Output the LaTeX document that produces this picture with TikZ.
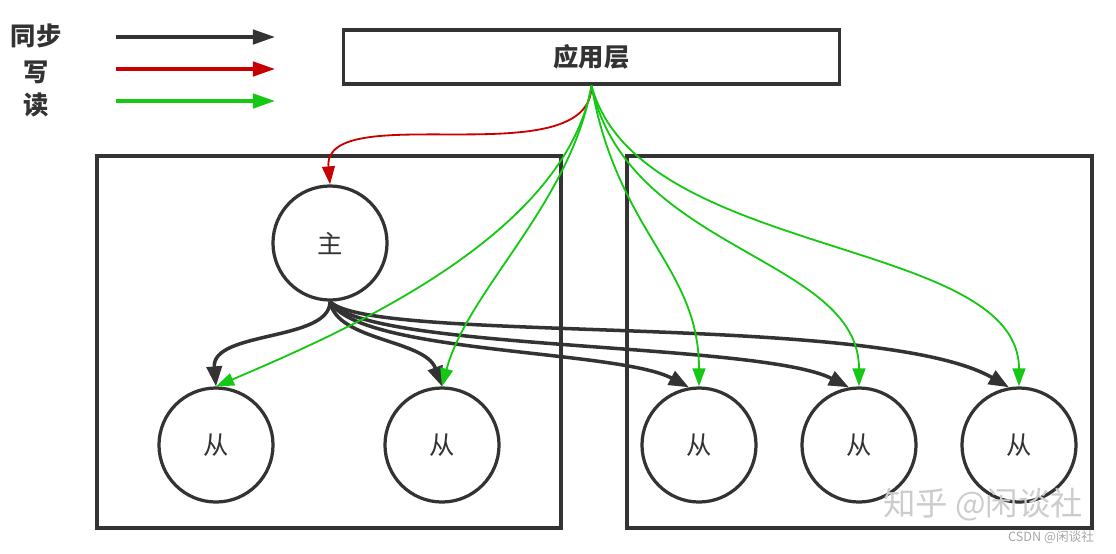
\documentclass[tikz,border=0pt]{standalone}
\usepackage{fontspec}
\newfontfamily\cjk{Noto Sans CJK SC}
\usetikzlibrary{arrows.meta}
\definecolor{LineGray}{RGB}{51,51,51}
\definecolor{WriteRed}{RGB}{200,0,0}
\definecolor{ReadGreen}{RGB}{20,200,20}

\begin{document}
\begin{tikzpicture}[x=0.025cm, y=0.025cm, font=\cjk\bfseries,
	lay/.style={draw=LineGray, line width=2.3pt, minimum width=12.4cm, minimum height=1.35cm, inner sep=0pt,
		text=LineGray, font=\cjk\bfseries\fontsize{18}{20}\selectfont},
	db/.style={circle, draw=LineGray, line width=2.3pt, minimum size=2.85cm, inner sep=0pt,
		text=LineGray, font=\cjk\fontsize{18}{20}\selectfont},
	grp/.style={draw=LineGray, line width=2.3pt},
	leg/.style={text=LineGray, font=\cjk\bfseries\fontsize{18}{20}\selectfont},
	syncarr/.style={-{Triangle[length=5mm, width=3.8mm]}, line width=2.5pt, LineGray},
	writearr/.style={-{Triangle[length=4.5mm, width=3.2mm]}, line width=1.3pt, WriteRed},
	readarr/.style={-{Triangle[length=4.5mm, width=3.2mm]}, line width=1.3pt, ReadGreen},
	legarr/.style={line width=2.3pt, -{Triangle[length=5.5mm, width=3.6mm]}}]

	\useasboundingbox (0,0) rectangle (1116,-553);

	% legend
	\foreach \n/\txt/\ty/\y/\st in {l1/同步/36/37/syncarr, l2/写/72/69/writearr, l3/读/105/101/readarr}{
		\node[leg] (\n) at (36,-\ty) {\txt};
		\coordinate (\n a) at (116,-\y);
		\coordinate (\n b) at (275,-\y);
		\draw[\st, legarr] (\n a) -- (\n b);}

	% groups
	\draw[grp] (97,-156) rectangle (561,-528);
	\draw[grp] (627,-156) rectangle (1092,-528);

	% nodes
	\node[lay] (app) at (591.5,-57) {应用层};
	\node[db] (zhu) at (330,-243) {主};
	\foreach \n/\x in {s1/216, s2/442, s3/699, s4/859, s5/1019}
		{\node[db] (\n) at (\x,-445) {从};}

	% sync
	\foreach \t/\a/\o/\i/\p/\q in {s1/north/-90/95/1/1.4, s2/north/-80/110/1/1.25,
		s3/100/-60/152/1.5/2, s4/100/-55/153/1.5/2.5, s5/100/-45/150/1.5/3.75}
		\draw[syncarr] (zhu.south) to[out=\o, in=\i, out distance=\p cm, in distance=\q cm] (\t.\a);

	% write
	\draw[writearr] (app.south) to[out=-90, in=95, out distance=2.3cm, in distance=2.2cm] (zhu.north);

	% read
	\foreach \t/\o/\i/\p/\q in {s1/-100/23/3.75/3.75, s2/-100/75/3/2.5,
		s3/-80/90/3.75/3, s4/-78/90/4.25/3.25, s5/-75/90/4.5/3.75}
		\draw[readarr] (app.south) to[out=\o, in=\i, out distance=\p cm, in distance=\q cm] (\t.north);

	% watermark
	\node[text=gray!40, font=\cjk\fontsize{23}{25}\selectfont] (mark) at (983,-505) {知乎 @闲谈社};
	\node[text=gray!70, font=\cjk\fontsize{9}{10}\selectfont] (csdn) at (1051,-537) {CSDN @闲谈社};
\end{tikzpicture}
\end{document}
